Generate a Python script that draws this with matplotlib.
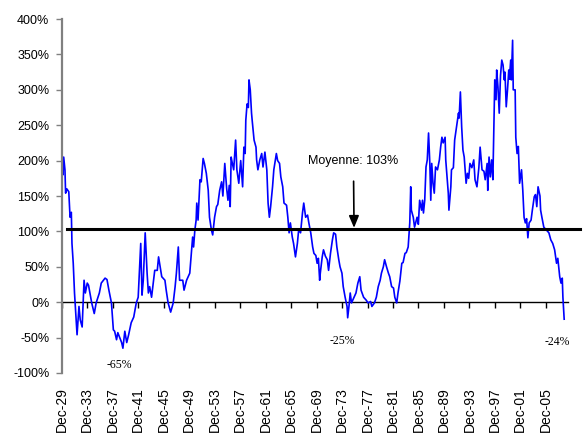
import matplotlib.pyplot as plt

plt.rcParams['font.family'] = ['Liberation Sans', 'DejaVu Sans']

# Dates (années décimales)
annees = [
    1929.92, 1930.0, 1930.1, 1930.2, 1930.4, 1930.5, 1930.7, 1931.0, 1931.2, 1931.4,
    1931.5, 1931.7, 1931.9, 1932.3, 1932.6, 1932.8, 1933.1, 1933.4, 1933.6, 1933.9,
    1934.1, 1934.6, 1935.0, 1935.3, 1935.8, 1936.1, 1936.7, 1937.0, 1937.3, 1937.7,
    1938.0, 1938.2, 1938.5, 1938.7, 1939.3, 1939.5, 1939.8, 1940.1, 1940.4, 1940.8,
    1941.2, 1941.6, 1941.9, 1942.3, 1942.5, 1942.7, 1943.0, 1943.3, 1943.5, 1943.7,
    1944.0, 1944.5, 1944.9, 1945.1, 1945.6, 1946.1, 1946.3, 1946.6, 1947.0, 1947.4,
    1947.7, 1947.9, 1948.2, 1948.4, 1948.9, 1949.1, 1949.5, 1950.0, 1950.3, 1950.45,
    1950.6, 1950.8, 1951.0, 1951.1, 1951.3, 1951.6, 1951.8, 1952.1, 1952.3, 1952.6,
    1952.9, 1953.1, 1953.4, 1953.6, 1953.9, 1954.2, 1954.4, 1954.7, 1955.0, 1955.2,
    1955.5, 1955.8, 1956.0, 1956.2, 1956.35, 1956.5, 1956.6, 1956.9, 1957.2, 1957.4,
    1957.7, 1958.0, 1958.3, 1958.5, 1958.7, 1958.8, 1959.0, 1959.2, 1959.3, 1959.5,
    1959.7, 1959.8, 1960.1, 1960.4, 1960.5, 1960.7, 1961.0, 1961.3, 1961.5, 1961.8,
    1962.1, 1962.3, 1962.5, 1962.7, 1963.0, 1963.2, 1963.6, 1963.8, 1964.1, 1964.3,
    1964.6, 1964.8, 1965.2, 1965.4, 1965.6, 1965.8, 1966.1, 1966.3, 1966.6, 1966.9,
    1967.1, 1967.4, 1967.7, 1967.9, 1968.2, 1968.5, 1968.7, 1969.0, 1969.3, 1969.5,
    1969.8, 1970.0, 1970.2, 1970.4, 1970.5, 1970.8, 1971.0, 1971.3, 1971.6, 1971.8,
    1972.1, 1972.4, 1972.6, 1972.9, 1973.1, 1973.4, 1973.6, 1973.9, 1974.1, 1974.4,
    1974.7, 1974.8, 1975.0, 1975.2, 1975.4, 1975.7, 1976.1, 1976.4, 1976.7, 1976.9,
    1977.3, 1977.7, 1978.0, 1978.4, 1978.6, 1979.0, 1979.3, 1979.6, 1979.9, 1980.1,
    1980.4, 1980.6, 1980.9, 1981.2, 1981.4, 1981.7, 1982.0, 1982.2, 1982.5, 1982.7,
    1983.0, 1983.3, 1983.5, 1983.8, 1984.0, 1984.3, 1984.45, 1984.55, 1984.7, 1984.8,
    1985.1, 1985.3, 1985.5, 1985.7, 1985.9, 1986.1, 1986.4, 1986.55, 1986.7, 1986.9,
    1987.1, 1987.3, 1987.5, 1987.7, 1987.85, 1988.0, 1988.2, 1988.4, 1988.6, 1988.9,
    1989.2, 1989.4, 1989.6, 1989.8, 1990.1, 1990.2, 1990.4, 1990.6, 1990.7, 1991.0,
    1991.1, 1991.4, 1991.6, 1991.9, 1992.2, 1992.3, 1992.5, 1992.7, 1992.9, 1993.1,
    1993.4, 1993.6, 1993.8, 1994.0, 1994.3, 1994.6, 1994.8, 1995.1, 1995.4, 1995.6,
    1995.9, 1996.2, 1996.4, 1996.7, 1996.8, 1997.0, 1997.2, 1997.4, 1997.6, 1997.8,
    1997.9, 1998.1, 1998.2, 1998.4, 1998.6, 1998.8, 1999.0, 1999.2, 1999.4, 1999.5,
    1999.7, 1999.9, 2000.1, 2000.2, 2000.4, 2000.5, 2000.7, 2000.8, 2001.1, 2001.2,
    2001.4, 2001.6, 2001.8, 2002.1, 2002.3, 2002.5, 2002.7, 2002.9, 2003.1, 2003.3,
    2003.6, 2003.8, 2004.1, 2004.3, 2004.5, 2004.7, 2005.0, 2005.1, 2005.3, 2005.6,
    2006.0, 2006.4, 2006.7, 2007.0, 2007.3, 2007.6, 2007.8, 2008.1, 2008.3, 2008.5,
    2008.6, 2008.8,
]

# Ecart en %
valeurs = [
    170, 190, 180, 205, 187, 154, 160, 156, 120, 127,
    83, 55, 13, -46, -6, -25, -35, 31, 13, 27,
    24, -1, -16, -1, 13, 27, 34, 32, 17, -1,
    -39, -41, -53, -43, -57, -65, -41, -57, -46, -29,
    -21, -1, 7, 83, 10, 31, 98, 41, 13, 22,
    7, 45, 45, 64, 36, 31, 17, -1, -14, -1,
    22, 41, 78, 31, 31, 17, 31, 41, 74, 92,
    78, 102, 116, 140, 116, 173, 170, 203, 196, 182,
    158, 120, 102, 95, 120, 135, 138, 158, 170, 150,
    196, 160, 144, 165, 135, 205, 200, 187, 229, 187,
    168, 200, 163, 219, 210, 257, 280, 275, 314, 300,
    267, 257, 229, 219, 201, 187, 201, 210, 191, 212,
    187, 140, 120, 135, 163, 187, 210, 200, 196, 177,
    163, 140, 137, 120, 98, 112, 92, 83, 64, 83,
    102, 98, 126, 140, 120, 123, 112, 98, 78, 69,
    66, 55, 62, 31, 41, 64, 74, 65, 60, 45,
    69, 88, 98, 96, 78, 60, 50, 41, 22, 7,
    -6, -22, -6, 13, -1, 5, 13, 27, 36, 17,
    7, 3, -1, 1, -6, -1, 7, 22, 31, 41,
    50, 60, 50, 41, 36, 22, 20, 7, -1, 13,
    30, 55, 56, 69, 70, 78, 98, 112, 163, 130,
    120, 106, 113, 120, 110, 144, 130, 144, 126, 144,
    191, 201, 239, 196, 144, 196, 168, 154, 191, 187,
    201, 219, 233, 225, 233, 201, 177, 154, 130, 163,
    187, 190, 229, 248, 267, 260, 297, 248, 215, 205,
    168, 182, 175, 196, 190, 201, 173, 163, 190, 219,
    187, 185, 173, 196, 158, 205, 177, 201, 173, 262,
    314, 286, 328, 304, 267, 320, 342, 335, 314, 325,
    276, 300, 328, 315, 342, 314, 370, 300, 300, 233,
    210, 220, 168, 187, 158, 120, 112, 118, 91, 112,
    116, 130, 149, 152, 135, 163, 150, 130, 120, 106,
    102, 98, 88, 83, 74, 55, 62, 36, 27, 34,
    7, -24,
]

moyenne = 103

# Etiquettes des axes
x_labels = ['Dec-29', 'Dec-33', 'Dec-37', 'Dec-41', 'Dec-45', 'Dec-49', 'Dec-53',
            'Dec-57', 'Dec-61', 'Dec-65', 'Dec-69', 'Dec-73', 'Dec-77', 'Dec-81',
            'Dec-85', 'Dec-89', 'Dec-93', 'Dec-97', 'Dec-01', 'Dec-05']
x_ticks = [1929.92 + 4 * i for i in range(len(x_labels))]
y_ticks = [-100, -50, 0, 50, 100, 150, 200, 250, 300, 350, 400]
y_labels = ['-100%', '-50%', '0%', '50%', '100%', '150%', '200%', '250%',
            '300%', '350%', '400%']

# Points bas annotés
minima_textes = ['-65%', '-25%', '-24%']
minima_x = [1939.0, 1973.9, 2007.7]
minima_y = [-89, -55, -56]

fig = plt.figure(figsize=(5.84, 4.36), dpi=100)
ax = fig.add_axes([0.106, 0.1445, 0.8666, 0.8119])

ax.plot(annees, valeurs, color='#0000FF', linewidth=1.2)
ax.set_xlim(1929.92, 2009.4)
ax.set_ylim(-100, 400)

# Ligne de la moyenne
ax.axhline(moyenne, xmin=0.01, xmax=1.024, color='black', linewidth=2.2, clip_on=False)

for s in ['top', 'right', 'bottom']:
    ax.spines[s].set_visible(False)
ax.spines['left'].set_color('#808080')
ax.spines['left'].set_linewidth(1.6)

ax.set_yticks(y_ticks, labels=y_labels)
ax.tick_params(axis='y', length=4, width=1, color='#808080', pad=5, labelsize=9)
ax.set_xticks(x_ticks, labels=x_labels, rotation=90)
ax.tick_params(axis='x', length=0, pad=10, labelsize=10)

# Axe horizontal à 0%
axe0 = ax.secondary_xaxis(0.2)
axe0.set_xticks(x_ticks)
axe0.tick_params(labelbottom=False, direction='out', length=4, width=1, color='black')
axe0.spines['bottom'].set_color('black')
axe0.spines['bottom'].set_linewidth(1)

ax.annotate('Moyenne: 103%', xy=(1975.8, 105), xytext=(1975.7, 199),
            ha='center', va='center', fontsize=9,
            arrowprops=dict(arrowstyle='-|>,head_length=0.6,head_width=0.25',
                            color='black', lw=1.2, shrinkA=8, shrinkB=0,
                            mutation_scale=12))

for t, x, y in zip(minima_textes, minima_x, minima_y):
    ax.text(x, y, t, ha='center', va='center', fontsize=8.5,
            family=['Liberation Serif', 'DejaVu Serif'])

fig.savefig('out.png', dpi=100)
